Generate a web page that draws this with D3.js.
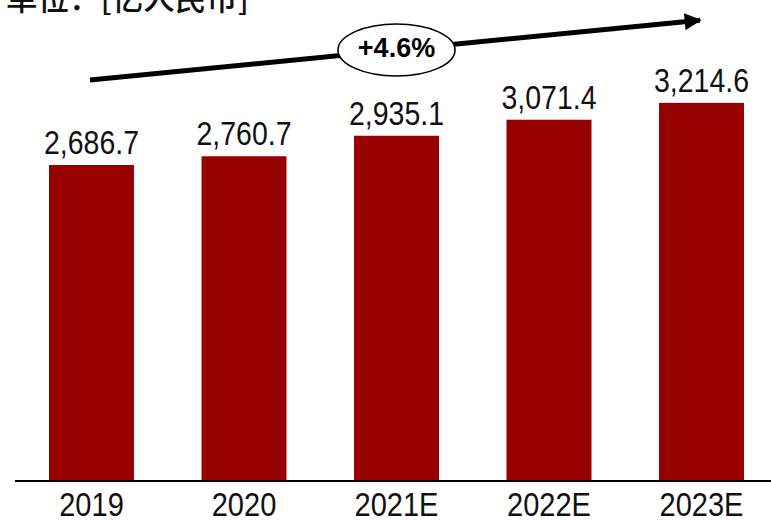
<!DOCTYPE html>
<html>
<head>
<meta charset="utf-8">
<script src="https://cdn.jsdelivr.net/npm/d3@7"></script>
<style>
  html, body { margin: 0; padding: 0; background: #fff; }
  svg { display: block; }
</style>
</head>
<body>
<svg id="chart" width="771" height="521"></svg>
<script>
// Market size by year, in 100 million RMB
const years = ["2019", "2020", "2021E", "2022E", "2023E"];
const values = [2686.7, 2760.7, 2935.1, 3071.4, 3214.6];
const unitTitle = "单位：[亿人民币]";
const growthLabel = "+4.6%";

const W = 771, H = 521;
const baseY = 481;
const barColor = "#970000";
const numFont = "'Liberation Sans', Arial, sans-serif";

const svg = d3.select("#chart");

const x = d3.scaleBand()
  .domain(years)
  .range([15.25, 777.75])
  .paddingInner(0.4426)
  .paddingOuter(0.2213);

const y = d3.scaleLinear()
  .domain([0, 4000])
  .range([baseY, baseY - 470.5]);

// Bars
svg.append("g")
  .selectAll("rect")
  .data(values)
  .join("rect")
  .attr("x", (d, i) => x(years[i]))
  .attr("y", d => y(d))
  .attr("width", x.bandwidth())
  .attr("height", d => baseY - y(d))
  .attr("fill", barColor);

// Value labels above bars (horizontally condensed numerals)
const fmt = d3.format(",.1f");
svg.append("g")
  .selectAll("text")
  .data(values)
  .join("text")
  .attr("transform", (d, i) =>
    `translate(${x(years[i]) + x.bandwidth() / 2},${y(d) - 11}) scale(0.85,1)`)
  .attr("text-anchor", "middle")
  .attr("font-family", numFont)
  .attr("font-size", 33.5)
  .attr("fill", "#111")
  .text(d => fmt(d));

// Category axis
const axis = svg.append("g")
  .attr("transform", `translate(0,${baseY})`)
  .call(d3.axisBottom(x).tickSize(0).tickPadding(35));
axis.select(".domain").remove();
axis.selectAll("text")
  .attr("font-family", numFont)
  .attr("font-size", 33)
  .attr("fill", "#111")
  .attr("dy", 0)
  .attr("transform", "scale(0.88,1)");
svg.append("line")
  .attr("x1", 15).attr("x2", W)
  .attr("y1", baseY).attr("y2", baseY)
  .attr("stroke", "#000")
  .attr("stroke-width", 2);

// Unit title
svg.append("text")
  .attr("x", 6)
  .attr("y", 10)
  .attr("font-family", "'Noto Sans CJK SC', sans-serif")
  .attr("font-size", 31.5)
  .attr("font-weight", 500)
  .attr("fill", "#111")
  .text(unitTitle);

// Growth trend arrow
const defs = svg.append("defs");
defs.append("marker")
  .attr("id", "head")
  .attr("viewBox", "0 0 10 10")
  .attr("refX", 9).attr("refY", 5)
  .attr("markerWidth", 3.6).attr("markerHeight", 3.4)
  .attr("markerUnits", "strokeWidth")
  .attr("orient", "auto")
  .append("path")
  .attr("d", "M0,0 L10,5 L0,10 Z")
  .attr("fill", "#000");

const ax0 = 90, ay0 = 80, ax1 = 702, ay1 = 20;
svg.append("line")
  .attr("x1", ax0).attr("y1", ay0)
  .attr("x2", ax1 - 2).attr("y2", ay1 + 0.2)
  .attr("stroke", "#000")
  .attr("stroke-width", 5)
  .attr("marker-end", "url(#head)");

// CAGR bubble
const cx = 396.5, cy = 50;
svg.append("ellipse")
  .attr("cx", cx).attr("cy", cy)
  .attr("rx", 58.5).attr("ry", 26)
  .attr("fill", "#fff")
  .attr("stroke", "#000")
  .attr("stroke-width", 1.6);
svg.append("text")
  .attr("x", cx)
  .attr("y", cy + 7)
  .attr("text-anchor", "middle")
  .attr("font-family", numFont)
  .attr("font-size", 27)
  .attr("font-weight", "bold")
  .attr("fill", "#000")
  .text(growthLabel);
</script>
</body>
</html>
